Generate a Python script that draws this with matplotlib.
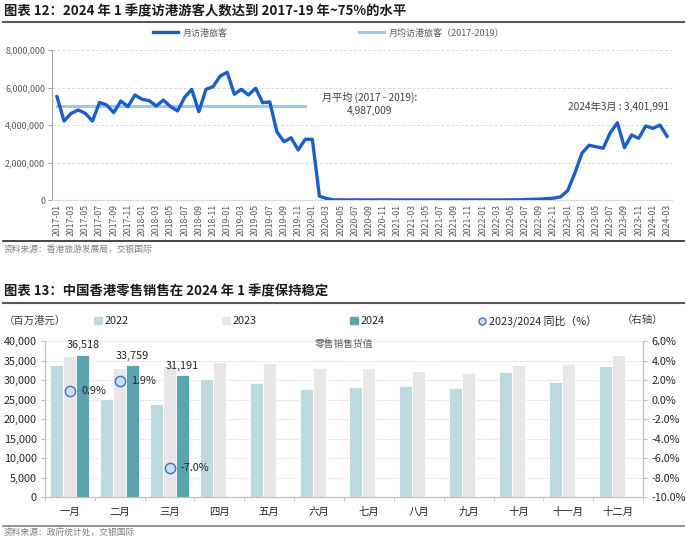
import matplotlib
matplotlib.use("Agg")
import matplotlib.pyplot as plt
import numpy as np
import pandas as pd
from matplotlib.lines import Line2D
from matplotlib.patches import Patch

plt.rcParams['font.family'] = ['Noto Sans CJK SC', 'DejaVu Sans']

# ---- data: monthly visitor arrivals 2017-01 .. 2024-03
months = pd.date_range('2017-01', '2024-03', freq='MS').strftime('%Y-%m').tolist()
visitors = [
    5510000, 4210000, 4620000, 4800000, 4620000, 4210000, 5200000, 5070000, 4660000, 5280000, 4980000, 5600000,  # 2017
    5370000, 5300000, 5010000, 5330000, 4980000, 4750000, 5480000, 5900000, 4710000, 5900000, 6040000, 6610000,  # 2018
    6810000, 5640000, 5900000, 5600000, 5960000, 5190000, 5230000, 3640000, 3110000, 3320000, 2670000, 3240000,  # 2019
    3240000, 200000, 82000, 4000, 6000, 4000, 5000, 4500, 4000, 4500, 5000, 4500,  # 2020
    4000, 3500, 4000, 4500, 4000, 3500, 4000, 4500, 4000, 4500, 4500, 4500,  # 2021
    3500, 2500, 2500, 3500, 8000, 10000, 25000, 35000, 45000, 70000, 100000, 170000,  # 2022
    500000, 1430000, 2490000, 2920000, 2840000, 2760000, 3590000, 4120000, 2790000, 3470000, 3290000, 3950000,  # 2023
    3820000, 4000000, 3401991,  # 2024
]
avg_2017_2019 = 4987009
avg_months = 36

# ---- data: HK retail sales (HKD mn)
cat_months = ['一月', '二月', '三月', '四月', '五月', '六月',
              '七月', '八月', '九月', '十月', '十一月', '十二月']
sales_2022 = [33860, 25250, 23800, 30190, 29170, 27720, 28300, 28500, 28060, 32000, 29600, 33700]
sales_2023 = [36190, 33130, 33540, 34630, 34460, 33000, 33000, 32400, 31800, 33860, 34100, 36330]
sales_2024 = [36518, 33759, 31191]
yoy = [0.9, 1.9, -7.0]

fig = plt.figure(figsize=(6.87, 5.38), dpi=100)
W, H = 687, 538

def fx(px):
    return px / W

def fy(py):
    return 1 - py / H

txt = '#404040'

# ================= top chart =================
fig.text(fx(4), fy(11), '图表 12：2024 年 1 季度访港游客人数达到 2017-19 年~75%的水平',
         fontsize=9.6, fontweight='bold', va='center', ha='left', color='#1a1a1a')
fig.add_artist(Line2D([fx(3), fx(684)], [fy(22), fy(22)], color='#595959', lw=1.5))

ax = fig.add_axes([fx(52), fy(200), fx(620), 150 / H])
x = np.arange(len(visitors))
ax.plot(x, visitors, color='#1c5ec9', lw=2.4, label='月访港旅客', zorder=3)
ax.plot(x[:avg_months], [avg_2017_2019] * avg_months, color='#a3c8e8', lw=2.2,
        label='月均访港旅客（2017-2019）', zorder=2)
ax.set_xlim(-0.7, len(visitors) - 0.3)
ax.set_ylim(0, 8000000)
ax.set_yticks(np.arange(0, 8000001, 2000000))
ax.set_yticklabels([f'{v:,}' for v in range(0, 8000001, 2000000)], fontsize=6.4, color='#595959')
ax.set_xticks(x[::2])
ax.set_xticklabels(months[::2], rotation=90, fontsize=6.3, color='#595959')
ax.tick_params(axis='x', length=0, pad=3)
ax.tick_params(axis='y', length=3, color='#a6a6a6', pad=2)
ax.grid(axis='y', ls=(0, (3, 2)), color='#d9d9d9', lw=0.7)
for s in ['top', 'right']:
    ax.spines[s].set_visible(False)
ax.spines['left'].set_color('#a6a6a6')
ax.spines['bottom'].set_color('#d9d9d9')

ax.text(37.3, 5490000, '月平均 (2017 - 2019):', fontsize=7.3, color=txt, ha='left', va='center')
ax.text(44.0, 4750000, '4,987,009', fontsize=7.3, color=txt, ha='center', va='center')
ax.text(86.3, 4960000, f'2024年3月 : {visitors[-1]:,}', fontsize=7.3, color=txt,
        ha='right', va='center')

ax.legend(loc='center left', bbox_to_anchor=(fx(156 - 52) / fx(620) - 0.005, (fy(33) - fy(200)) / (150 / H)),
          ncol=2, frameon=False, fontsize=6.5, handlelength=2.8, handletextpad=0.5,
          columnspacing=14.5, borderaxespad=0, borderpad=0,
          labelcolor='#595959')

fig.add_artist(Line2D([fx(3), fx(684)], [fy(241), fy(241)], color='#262626', lw=1.2))
fig.text(fx(4), fy(249), '资料来源：香港旅游发展局，交银国际', fontsize=6.3, style='italic',
         color='#7f7f7f', va='center')

# ================= bottom chart =================
fig.text(fx(4), fy(291), '图表 13：中国香港零售销售在 2024 年 1 季度保持稳定',
         fontsize=9.6, fontweight='bold', va='center', ha='left', color='#1a1a1a')
fig.add_artist(Line2D([fx(3), fx(684)], [fy(303), fy(303)], color='#595959', lw=1.5))

bx = fig.add_axes([fx(45), fy(497.3), fx(598), 156.3 / H])
c = np.arange(len(cat_months))
bw = 0.26
bx.bar(c - bw, sales_2022, bw, color='#bddbdf', edgecolor='white', lw=0.6, label='2022', zorder=2)
bx.bar(c, sales_2023, bw, color='#e9e6ea', edgecolor='white', lw=0.6, label='2023', zorder=2)
c24 = c[:len(sales_2024)]
bx.bar(c24 + bw, sales_2024, bw, color='#5ba3ad', edgecolor='white', lw=0.6, label='2024', zorder=2)
for xi, v in zip(c24 + bw, sales_2024):
    bx.annotate(f'{v:,}', (xi, v), xytext=(0, 3), textcoords='offset points',
                ha='center', va='bottom', fontsize=7.8, color='#262626')

bx.set_xlim(-0.5, len(cat_months) - 0.5)
bx.set_ylim(0, 40000)
bx.set_yticks(np.arange(0, 40001, 5000))
bx.set_yticklabels([f'{v:,}' for v in range(0, 40001, 5000)], fontsize=7.8, color='#262626')
bx.set_xticks(c)
bx.set_xticklabels(cat_months, fontsize=7.5, color='#262626')
bx.set_xticks(np.arange(-0.5, len(cat_months), 1), minor=True)
bx.tick_params(axis='x', which='major', length=0, pad=7)
bx.tick_params(axis='x', which='minor', length=3, color='#bfbfbf')
bx.tick_params(axis='y', length=3, color='#bfbfbf', pad=3)
bx.grid(axis='y', ls=(0, (1, 1)), color='#d9d9d9', lw=0.7, zorder=0)
bx.set_axisbelow(True)
bx.spines['top'].set_visible(False)
for s in ['left', 'right', 'bottom']:
    bx.spines[s].set_color('#bfbfbf')
bx.text(0.5, 0.985, '零售销售货值', transform=bx.transAxes, ha='center', va='center',
        fontsize=7, color='#595959')

rx = bx.twinx()
rx.set_ylim(-10, 6)
rx.set_yticks(np.arange(-10, 6.1, 2))
rx.set_yticklabels([f'{v:.1f}%' for v in np.arange(-10, 6.1, 2)], fontsize=7.8, color='#262626')
rx.tick_params(axis='y', length=3, color='#bfbfbf', pad=3)
rx.spines['top'].set_visible(False)
for s in ['left', 'right', 'bottom']:
    rx.spines[s].set_color('#bfbfbf')
rx.scatter(c24, yoy, s=55, facecolor='#c9dff5', edgecolor='#3b74c4', lw=1.0, zorder=4,
           label='2023/2024 同比（%）')
for xi, v in zip(c24, yoy):
    rx.annotate(f'{v:.1f}%', (xi, v), xytext=(8, 0), textcoords='offset points',
                ha='left', va='center', fontsize=7.8, color='#262626')

handles = [Patch(color='#bddbdf'), Patch(color='#e9e6ea'), Patch(color='#5ba3ad'),
           Line2D([], [], ls='', marker='o', ms=5, mfc='#c9dff5', mec='#3b74c4')]
fig.legend(handles, ['2022', '2023', '2024', '2023/2024 同比（%）'],
           loc='center left', bbox_to_anchor=(fx(94), fy(321)), ncol=4, frameon=False,
           fontsize=7.8, handlelength=0.7, handleheight=0.7, handletextpad=0.3,
           columnspacing=8.6, borderaxespad=0, borderpad=0, labelcolor='#262626')
fig.text(fx(4), fy(321), '（百万港元）', fontsize=7.5, color='#404040', va='center')
fig.text(fx(622), fy(320), '（右轴）', fontsize=7.5, color='#404040', va='center')

fig.add_artist(Line2D([fx(3), fx(684)], [fy(526), fy(526)], color='#7f7f7f', lw=1.2))
fig.text(fx(4), fy(533), '资料来源：政府统计处，交银国际', fontsize=6.3, style='italic',
         color='#7f7f7f', va='center')

fig.savefig('out.png', dpi=100)
